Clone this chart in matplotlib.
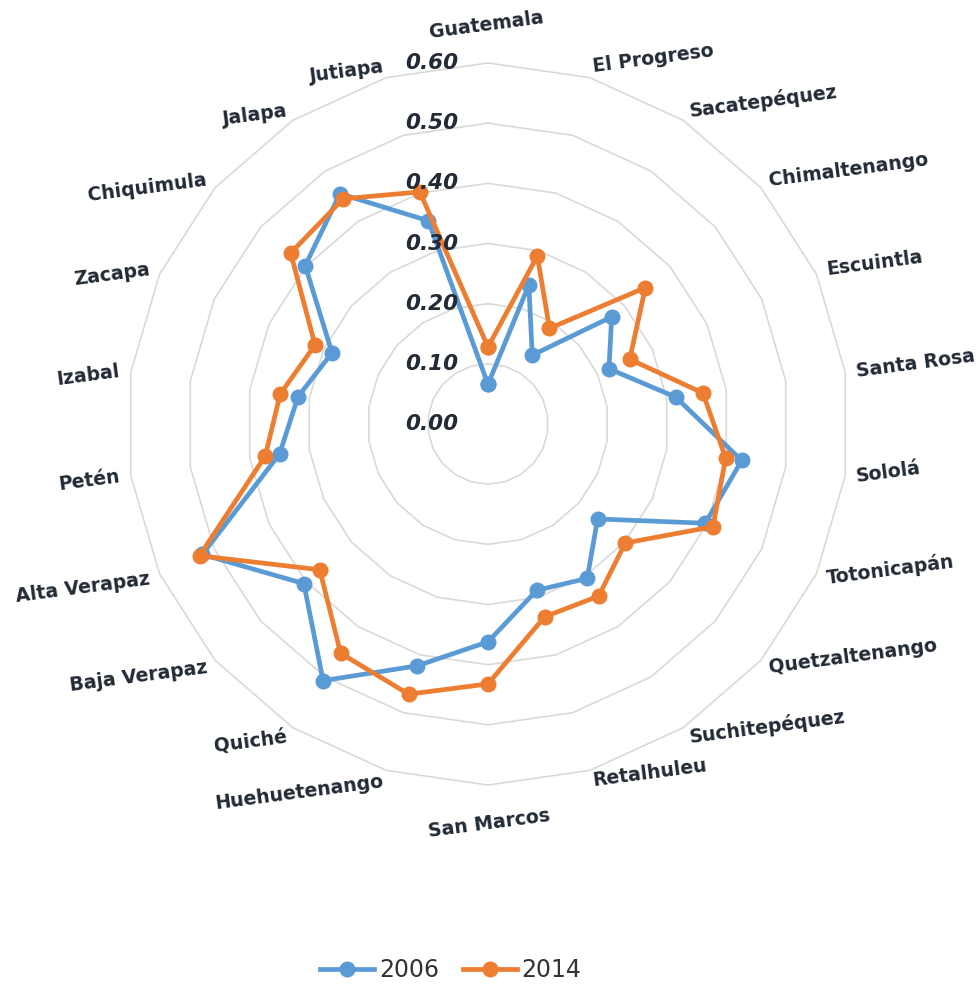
import numpy as np
import matplotlib
matplotlib.use("Agg")
import matplotlib.pyplot as plt

categories = ["Guatemala", "El Progreso", "Sacatepéquez", "Chimaltenango", "Escuintla",
              "Santa Rosa", "Sololá", "Totonicapán", "Quetzaltenango", "Suchitepéquez",
              "Retalhuleu", "San Marcos", "Huehuetenango", "Quiché", "Baja Verapaz",
              "Alta Verapaz", "Petén", "Izabal", "Zacapa", "Chiquimula", "Jalapa", "Jutiapa"]
values_2006 = [0.066, 0.241, 0.136, 0.272, 0.221, 0.315, 0.426, 0.397, 0.241, 0.305,
               0.288, 0.362, 0.419, 0.507, 0.405, 0.522, 0.350, 0.319, 0.285, 0.402,
               0.455, 0.352]
values_2014 = [0.128, 0.291, 0.189, 0.346, 0.259, 0.361, 0.399, 0.411, 0.302, 0.340,
               0.334, 0.432, 0.468, 0.453, 0.370, 0.527, 0.374, 0.349, 0.316, 0.434,
               0.445, 0.402]
series_names = ["2006", "2014"]
tick_values = [0.0, 0.1, 0.2, 0.3, 0.4, 0.5, 0.6]
tick_labels = ["0.00", "0.10", "0.20", "0.30", "0.40", "0.50", "0.60"]

BLUE = "#5b9bd5"
ORANGE = "#ed7d31"
GRID = "#d9d9d9"
TEXT = "#222a35"

W, H = 980, 985
fig = plt.figure(figsize=(W / 100, H / 100), dpi=100)
cx, cy, R = 488, 424, 361
ax = fig.add_axes([(cx - R) / W, (H - cy - R) / H, 2 * R / W, 2 * R / H], projection="polar")
ax.set_theta_zero_location("N")
ax.set_theta_direction(-1)
ax.set_ylim(0, 0.6)
ax.grid(False)
ax.set_xticks([])
ax.set_yticks([])
ax.spines["polar"].set_visible(False)
ax.patch.set_visible(False)

n = len(categories)
theta = np.arange(n) * 2 * np.pi / n
theta_c = np.append(theta, theta[0])

# polygon grid rings
for v in tick_values[1:]:
    ax.plot(theta_c, np.full(n + 1, v), color=GRID, lw=1.2, zorder=1, clip_on=False)

# series
for vals, col, name in [(values_2006, BLUE, series_names[0]), (values_2014, ORANGE, series_names[1])]:
    vv = np.append(vals, vals[0])
    ax.plot(theta_c, vv, color=col, lw=3.4, marker="o", markersize=10.5,
            label=name, zorder=3, clip_on=False, solid_joinstyle="round")

# value tick labels
for v, lab in zip(tick_values, tick_labels):
    ax.annotate(lab, xy=(0, v), xytext=(-30 * 0.72, 0), textcoords="offset points",
                ha="right", va="center", fontsize=15.5, fontweight="bold", style="italic",
                color=TEXT, annotation_clip=False, family="DejaVu Sans")

# category labels
r_lab = 0.6 * 372 / 361
for t, lab in zip(theta, categories):
    s, c = np.sin(t), np.cos(t)
    if abs(s) < 0.2:
        ha = "center"
        va = "bottom" if c > 0 else "top"
        rr = r_lab + 0.03
    else:
        ha = "left" if s > 0 else "right"
        va = "center"
        rr = r_lab
    ax.text(t, rr, lab, ha=ha, va=va, rotation=7.5, rotation_mode="anchor",
            fontsize=13.6, fontweight="bold", color=TEXT, clip_on=False,
            family="DejaVu Sans")

h, l = ax.get_legend_handles_labels()
leg = fig.legend(h, l, loc="lower center", bbox_to_anchor=(0.46, -0.019), ncol=2, frameon=False,
                 fontsize=17, handlelength=2.3, columnspacing=1.0, handletextpad=0.2)
for t in leg.get_texts():
    t.set_color("#333333")

fig.savefig("out.png", dpi=100)
